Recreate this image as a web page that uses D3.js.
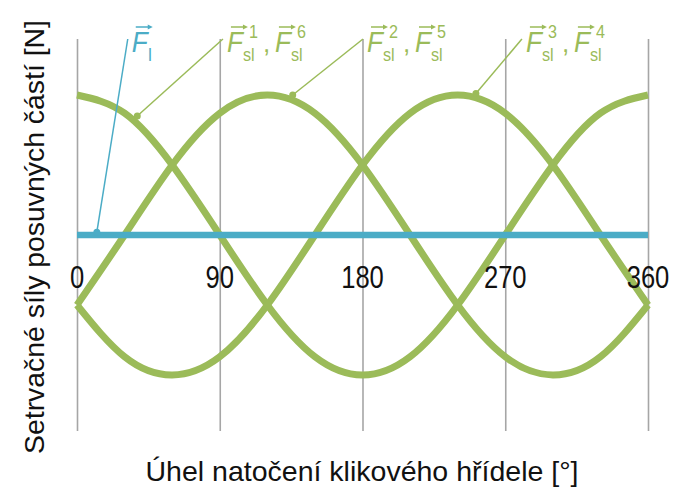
<!DOCTYPE html>
<html><head><meta charset="utf-8">
<script src="https://cdn.jsdelivr.net/npm/d3@7/dist/d3.min.js"></script>
<style>body{margin:0;background:#fff} svg{display:block}</style>
</head><body>
<svg id="chart" width="675" height="488"></svg>
<script>
// ---- data ----
const angles    = [0, 30, 60, 90, 120, 150, 180, 210, 240, 270, 300, 330, 360];
const forceSl16 = [1, 0.87, 0.5, 0, -0.5, -0.87, -1, -0.87, -0.5, 0, 0.5, 0.87, 1];
const forceSl25 = [-0.5, 0, 0.5, 0.87, 1, 0.87, 0.5, 0, -0.5, -0.87, -1, -0.87, -0.5];
const forceSl34 = [-0.5, -0.87, -1, -0.87, -0.5, 0, 0.5, 0.87, 1, 0.87, 0.5, 0, -0.5];
const forceI    = [0, 0, 0, 0, 0, 0, 0, 0, 0, 0, 0, 0, 0];
const xTicks = [0, 90, 180, 270, 360];
const xTitle = "Úhel natočení klikového hřídele [°]";
const yTitle = "Setrvačné síly posuvných částí [N]";
// annotation: leader from point on curve [angle, value] to top [angle, value]
const annoNames  = ["I", "16", "25", "34"];
const annoSubs   = [["I"], ["sl", "sl"], ["sl", "sl"], ["sl", "sl"]];
const annoSups   = [[""], ["1", "6"], ["2", "5"], ["3", "4"]];
const annoPoint  = [[12.5, 0.02], [38, 0.85], [136, 1.0], [251.5, 1.01]];
const annoTop    = [[32, 1.4], [92, 1.4], [180.3, 1.4], [280.5, 1.4]];

const GREEN = "#9bbb59", BLUE = "#4bacc6", GRID = "#a6a6a6";
const FONT = "'Liberation Sans Narrow','Arial Narrow','Liberation Sans',Arial,sans-serif";

const svg = d3.select("#chart");
const x = d3.scaleLinear().domain([0, 360]).range([77, 648]);
const y = d3.scaleLinear().domain([-1.4, 1.4]).range([431, 39]);

// vertical gridlines
const gridAxis = d3.axisBottom(x).tickValues(xTicks).tickSize(-(y(-1.4) - y(1.4))).tickFormat("");
const gg = svg.append("g").attr("transform", `translate(0,${y(-1.4)})`).call(gridAxis);
gg.select(".domain").remove();
gg.selectAll("line").attr("stroke", GRID).attr("stroke-width", 1.6);

// curves
const line = d3.line().x((d, i) => x(angles[i])).y(d => y(d)).curve(d3.curveNatural);
[forceSl16, forceSl25, forceSl34].forEach(s => {
  svg.append("path").attr("d", line(s)).attr("fill", "none")
    .attr("stroke", GREEN).attr("stroke-width", 7).attr("stroke-linecap", "butt");
});
svg.append("path").attr("d", line(forceI)).attr("fill", "none")
  .attr("stroke", BLUE).attr("stroke-width", 6.5);

// tick labels (condensed look)
svg.append("g").selectAll("text").data(xTicks).join("text")
  .attr("transform", d => `translate(${x(d)},${y(0) + 53}) scale(0.8,1)`)
  .attr("text-anchor", "middle").attr("font-family", FONT)
  .attr("font-size", 32).attr("fill", "#111")
  .text(d => d);

// axis titles
svg.append("text").attr("x", 362).attr("y", 481).attr("text-anchor", "middle")
  .attr("font-family", FONT).attr("font-size", 28).attr("fill", "#111")
  .attr("textLength", 433).attr("lengthAdjust", "spacingAndGlyphs").text(xTitle);
svg.append("text").attr("transform", "translate(44,237) rotate(-90)").attr("text-anchor", "middle")
  .attr("font-family", FONT).attr("font-size", 28).attr("fill", "#111")
  .attr("textLength", 434).attr("lengthAdjust", "spacingAndGlyphs").text(yTitle);

// vector label F with arrow
function drawF(g, x0, base, sub, sup, color) {
  g.append("text").attr("transform", `translate(${x0},${base}) scale(0.9,1)`).attr("font-family", FONT)
    .attr("font-style", "italic").attr("font-size", 29).attr("fill", color).text("F");
  g.append("line").attr("x1", x0 + 4).attr("x2", x0 + 18).attr("y1", base - 25).attr("y2", base - 25)
    .attr("stroke", color).attr("stroke-width", 1.5);
  g.append("path").attr("d", `M${x0 + 21},${base - 25} L${x0 + 16},${base - 27.5} L${x0 + 16},${base - 22.5} Z`)
    .attr("fill", color);
  g.append("text").attr("transform", `translate(${x0 + 16},${base + 9}) scale(0.85,1)`).attr("font-family", FONT)
    .attr("font-size", 19).attr("fill", color).text(sub);
  if (sup) g.append("text").attr("transform", `translate(${x0 + 22},${base - 14}) scale(0.85,1)`).attr("font-family", FONT)
    .attr("font-size", 19).attr("fill", color).text(sup);
}

annoNames.forEach((n, k) => {
  const color = k === 0 ? BLUE : GREEN;
  const g = svg.append("g");
  const [pa, pv] = annoPoint[k], [ta, tv] = annoTop[k];
  g.append("line").attr("x1", x(pa)).attr("y1", y(pv)).attr("x2", x(ta)).attr("y2", y(tv))
    .attr("stroke", color).attr("stroke-width", 1.5);
  g.append("circle").attr("cx", x(pa)).attr("cy", y(pv)).attr("r", 3.5).attr("fill", color);
  const x0 = x(ta) + 4, base = 52;
  drawF(g, x0, base, annoSubs[k][0], annoSups[k][0], color);
  if (annoSubs[k].length > 1) {
    g.append("text").attr("x", x0 + 36).attr("y", base).attr("font-family", FONT)
      .attr("font-size", 26).attr("fill", color).text(",");
    drawF(g, x0 + 48, base, annoSubs[k][1], annoSups[k][1], color);
  }
});
</script>
</body></html>
